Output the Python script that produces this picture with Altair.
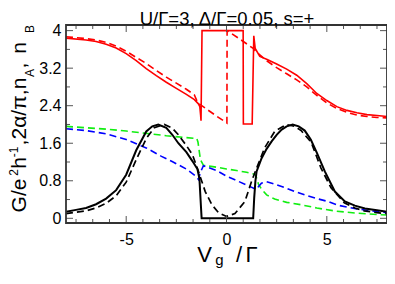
import altair as alt
import pandas as pd

# ---------------- data ----------------
# red solid : 2*alpha/pi (solid)
rs_x = [-8.0, -7.0, -6.5, -6.0, -5.5, -5.0, -4.5, -4.0, -3.5, -3.0, -2.5, -2.0, -1.6, -1.4, -1.33,
        -1.29, -1.27, -1.22, -0.5, 0.0, 0.5, 0.83, 0.84, 1.0, 1.28, 1.36, 1.43, 1.66, 2.0, 2.5,
        3.0, 3.5, 4.0, 4.5, 5.0, 5.5, 6.0, 6.5, 7.0, 7.5, 8.0]
rs_y = [3.84, 3.80, 3.77, 3.71, 3.63, 3.51, 3.36, 3.19, 3.04, 2.90, 2.77, 2.64, 2.53, 2.44, 2.38,
        2.20, 2.08, 4.0, 4.0, 4.0, 4.0, 4.0, 2.01, 2.01, 2.01, 3.89, 3.62, 3.45, 3.39, 3.29,
        3.18, 3.05, 2.87, 2.66, 2.51, 2.38, 2.30, 2.25, 2.21, 2.19, 2.17]
# red dashed
rd_x = [-8.0, -7.0, -6.5, -6.0, -5.5, -5.0, -4.5, -4.0, -3.5, -3.0, -2.5, -2.0, -1.6, -1.43,
        -1.0, -0.5, 0.02, 0.03, 0.7, 1.33, 1.5, 2.0, 2.5, 3.0, 3.5, 4.0, 4.5, 5.0, 5.5, 6.0,
        6.5, 7.0, 7.5, 8.0]
rd_y = [3.87, 3.83, 3.80, 3.75, 3.67, 3.56, 3.43, 3.30, 3.15, 3.01, 2.88, 2.75, 2.63, 2.46,
        2.33, 2.18, 2.03, 4.0, 3.81, 3.62, 3.54, 3.36, 3.21, 3.08, 2.95, 2.80, 2.62, 2.46, 2.34,
        2.26, 2.20, 2.17, 2.15, 2.14]
# black solid : G
gs_x = [-8.0, -7.5, -7.0, -6.5, -6.0, -5.5, -5.0, -4.5, -4.0, -3.7, -3.4, -3.0, -2.7, -2.4, -2.0,
        -1.7, -1.45, -1.35, -1.28, -1.24, 0.0, 1.33, 1.38, 1.44, 1.5, 1.75, 2.0, 2.25, 2.5, 2.75,
        3.0, 3.3, 3.6, 3.9, 4.2, 4.5, 4.9, 5.4, 5.9, 6.4, 6.9, 7.5, 8.0]
gs_y = [0.14, 0.18, 0.22, 0.30, 0.42, 0.60, 0.93, 1.45, 1.85, 1.96, 2.0, 1.93, 1.78, 1.60, 1.41,
        1.22, 1.05, 0.85, 0.30, 0.0, 0.0, 0.0, 0.43, 0.79, 1.0, 1.28, 1.48, 1.64, 1.78, 1.89,
        1.96, 2.0, 1.96, 1.87, 1.68, 1.40, 1.0, 0.57, 0.36, 0.27, 0.21, 0.17, 0.14]
# black dashed
gd_x = [-8.0, -7.5, -7.0, -6.5, -6.0, -5.5, -5.0, -4.5, -4.0, -3.6, -3.1, -2.7, -2.4, -2.0, -1.7,
        -1.4, -1.06, -0.73, -0.4, 0.0, 0.42, 0.92, 1.25, 1.5, 1.9, 2.4, 2.98, 3.4, 3.72, 4.22,
        4.71, 5.21, 5.87, 6.4, 6.86, 7.5, 8.0]
gd_y = [0.10, 0.13, 0.16, 0.22, 0.32, 0.48, 0.77, 1.25, 1.70, 1.93, 2.0, 1.92, 1.78, 1.55, 1.36,
        1.0, 0.57, 0.29, 0.12, 0.04, 0.10, 0.36, 0.79, 1.07, 1.50, 1.85, 2.0, 1.96, 1.87, 1.62,
        1.07, 0.65, 0.33, 0.22, 0.16, 0.12, 0.10]
# green dashed : n_A
gr_x = [-8.0, -7.0, -6.0, -5.0, -4.0, -3.0, -2.0, -1.48, -1.42, -1.3, -1.15, -0.5, 0.0, 0.5, 1.0,
        1.41, 1.5, 1.6, 1.75, 2.0, 2.4, 3.0, 3.7, 4.5, 5.5, 6.5, 7.5, 8.0]
gr_y = [1.96, 1.93, 1.90, 1.86, 1.81, 1.76, 1.72, 1.70, 1.62, 1.25, 1.13, 1.09, 1.05, 1.02, 0.98,
        0.94, 0.86, 0.72, 0.62, 0.50, 0.41, 0.34, 0.29, 0.22, 0.15, 0.11, 0.08, 0.07]
# blue dashed : n_B
bl_x = [-8.0, -7.0, -6.0, -5.0, -4.4, -4.0, -3.24, -2.71, -2.0, -1.48, -1.4, -1.3, -1.15, -0.5,
        0.0, 0.42, 1.0, 1.41, 1.5, 1.6, 1.74, 2.0, 2.4, 3.0, 3.4, 3.9, 4.5, 5.04, 5.54, 6.5,
        7.2, 8.0]
bl_y = [1.91, 1.87, 1.80, 1.68, 1.57, 1.50, 1.32, 1.21, 1.05, 0.88, 0.83, 0.98, 1.12, 1.02,
        0.90, 0.82, 0.71, 0.63, 0.61, 0.68, 0.75, 0.78, 0.73, 0.64, 0.57, 0.50, 0.42, 0.36, 0.28,
        0.20, 0.16, 0.12]

x_major = [-5, 0, 5]
x_minor = [-7.5, -6.6667, -5.8333, -4.1667, -3.3333, -2.5, -1.6667, -0.8333,
           0.8333, 1.6667, 2.5, 3.3333, 4.1667, 5.8333, 6.6667, 7.5]
y_major = [0, 0.8, 1.6, 2.4, 3.2, 4.0]
y_minor = [0.4, 1.2, 2.0, 2.8, 3.6]

title_text = "U/Γ=3, Δ/Γ=0.05, s=+"
# y title pieces: (text, kind, centre along the page y axis)
ytitle_parts = [("G/e", "n", 195.5), ("2", "sup", 172.5), ("h", "n", 163.0), ("-1", "sup", 152.0),
                (",", "n", 142.5), ("2α/π,", "n", 114.5), ("n", "n", 83.5), ("A", "sub", 73.0),
                (",", "n", 65.5), ("n", "n", 48.0), ("B", "sub", 29.0)]
# x title pieces: (text, kind, centre along the page x axis)
xtitle_parts = [("V", "n", 204.5), ("g", "sub", 219.5), ("/", "n", 239.0), ("Γ", "n", 251.5)]

# ---------------- layout ----------------
F = "Liberation Sans"
W, H = 321, 198
PL, PT, PB, PR = 58, 17, 45, 0
OX, OY = PL + 8, PT + 8          # page position of the plot origin
xs = alt.Scale(domain=[-8, 8], nice=False, zero=False)
ys = alt.Scale(domain=[-0.1, 4.12], nice=False, zero=False)

xaxis = alt.Axis(values=x_major, ticks=False, domain=False, grid=False,
                 labelExpr="datum.value < 0 ? '-' + abs(datum.value) : '' + datum.value",
                 labelFontSize=16, labelFont=F, labelColor="black", labelPadding=8, title=None)
yaxis = alt.Axis(values=y_major, ticks=False, domain=False, grid=False, format="~g",
                 labelFontSize=16, labelFont=F, labelColor="black", labelPadding=5, title=None)

X = lambda f: alt.X(f, scale=xs, axis=xaxis)
Y = lambda f: alt.Y(f, scale=ys, axis=yaxis)


def line(xv, yv, color, dashed, sw):
    df = pd.DataFrame({"x": xv, "y": yv, "i": list(range(len(xv)))})
    kw = dict(color=color, strokeWidth=sw, clip=True)
    if dashed:
        kw["strokeDash"] = [7, 4]
    return alt.Chart(df).mark_line(**kw).encode(x=X("x:Q"), y=Y("y:Q"), order="i:Q")


TC = "#555555"


def xticks(vals, L):
    df = pd.DataFrame({"v": vals})
    b = alt.Chart(df).mark_rule(color=TC, strokeWidth=1).encode(
        x=X("v:Q"), y=alt.value(H), y2=alt.value(H - L))
    t = alt.Chart(df).mark_rule(color=TC, strokeWidth=1).encode(
        x=X("v:Q"), y=alt.value(0), y2=alt.value(L))
    return [b, t]


def yticks(vals, L):
    df = pd.DataFrame({"v": vals})
    l = alt.Chart(df).mark_rule(color=TC, strokeWidth=1).encode(
        y=Y("v:Q"), x=alt.value(0), x2=alt.value(L))
    r = alt.Chart(df).mark_rule(color=TC, strokeWidth=1).encode(
        y=Y("v:Q"), x=alt.value(W), x2=alt.value(W - L))
    return [l, r]


def txt(s, fs, x, y, angle=0, align="center"):
    df = pd.DataFrame({"t": [s]})
    kw = dict(font=F, fontSize=fs, align=align, baseline="alphabetic", color="black")
    if angle:
        kw["angle"] = angle
    return alt.Chart(df).mark_text(**kw).encode(text="t:N", x=alt.value(x), y=alt.value(y))


frame = alt.Chart(pd.DataFrame({"t": [0]})).mark_rect(
    fill=None, stroke="#333333", strokeWidth=1.8).encode(
    x=alt.value(0), x2=alt.value(W), y=alt.value(0), y2=alt.value(H))

texts = []
ybase = {"n": 25.5, "sup": 17.5, "sub": 34.0}
yfs = {"n": 21, "sup": 12, "sub": 12}
for s, k, c in ytitle_parts:
    texts.append(txt(s, yfs[k], ybase[k] - OX, c - OY, angle=270))

xbase = {"n": 262.0, "sub": 264.5}
xfs = {"n": 22, "sub": 15}
for s, k, c in xtitle_parts:
    texts.append(txt(s, xfs[k], c - OX, xbase[k] - OY))

texts.append(txt(title_text, 18.5, 227.0 - OX, 24.8 - OY))

layers = [
    line(gr_x, gr_y, "#11ee11", True, 1.6),
    line(bl_x, bl_y, "#0000ff", True, 1.6),
    line(rd_x, rd_y, "#ff0000", True, 1.6),
    line(rs_x, rs_y, "#ff0000", False, 1.6),
    line(gd_x, gd_y, "#000000", True, 1.7),
    line(gs_x, gs_y, "#000000", False, 2.0),
]
layers += xticks(x_major, 7) + xticks(x_minor, 4) + yticks(y_major, 7) + yticks(y_minor, 4)
layers += [frame] + texts

chart = alt.layer(*layers).properties(
    width=W, height=H,
    autosize=alt.AutoSizeParams(type="none"),
    padding={"left": PL, "top": PT, "right": PR, "bottom": PB},
).configure_view(stroke=None)

chart.save("out.html", embed_options={"renderer": "svg", "actions": False})
